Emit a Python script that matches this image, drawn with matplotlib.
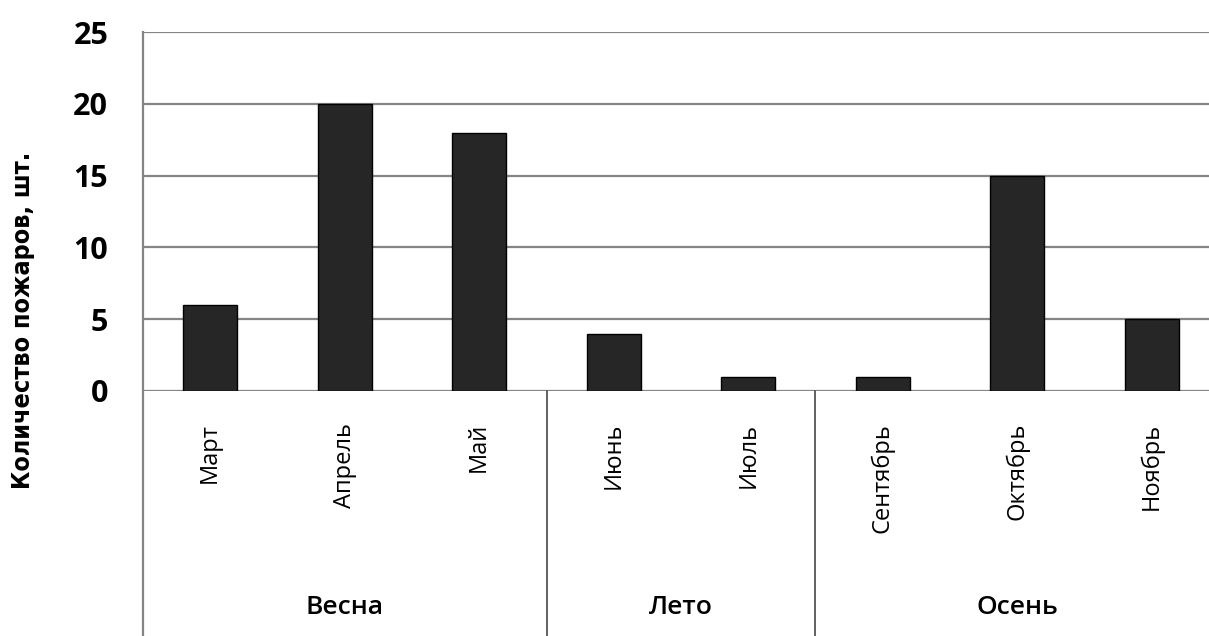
import matplotlib.pyplot as plt
import matplotlib.transforms as mtransforms

# fires per month, grouped by season
months = ['Март', 'Апрель', 'Май', 'Июнь', 'Июль', 'Сентябрь', 'Октябрь', 'Ноябрь']
fires = [6, 20, 18, 4, 1, 1, 15, 5]
seasons = ['Весна', 'Лето', 'Осень']
season_sizes = [3, 2, 3]
yticks = [0, 5, 10, 15, 20, 25]

W, H = 1209, 636
fig = plt.figure(figsize=(W / 100, H / 100), dpi=100)
ax = fig.add_axes([143 / W, 1 - 391 / H, (1219 - 143) / W, (391 - 32) / H])

x = list(range(len(months)))
ax.bar(x, fires, width=0.4, color='#262626', edgecolor='black', linewidth=1, zorder=3)

ax.set_xlim(-0.5, len(months) - 0.5)
ax.set_ylim(0, 25)
ax.set_yticks(yticks)
ax.set_yticklabels([str(v) for v in yticks], fontfamily='Open Sans', fontweight='bold', fontsize=22)
ax.yaxis.grid(True, color='#858585', linewidth=1.6, zorder=0)
ax.tick_params(axis='y', length=0, pad=25)
for s in ax.spines.values():
    s.set_visible(False)

ax.set_xticks(x)
ax.set_xticklabels(months, rotation=90, fontfamily='Open Sans', fontsize=17, va='top')
ax.tick_params(axis='x', length=0, pad=23)

# season boxes below the axis
trans = mtransforms.blended_transform_factory(ax.transData, ax.transAxes)
bottom = -(H - 391) / (391 - 32)
edges = [-0.5]
for n in season_sizes:
    edges.append(edges[-1] + n)
ax.plot([-0.5, -0.5], [bottom, 1], transform=trans, color='#858585', lw=1.6, clip_on=False)
for e in edges[1:]:
    ax.plot([e, e], [bottom, 0], transform=trans, color='#555555', lw=1.3, clip_on=False)
for name, a, b in zip(seasons, edges[:-1], edges[1:]):
    ax.text((a + b) / 2, -(608 - 391) / (391 - 32), name, transform=trans,
            ha='center', va='center', fontfamily='Open Sans', fontweight='semibold', fontsize=19)

fig.text(23 / W, 1 - 320 / H, 'Количество пожаров, шт.', rotation=90, ha='center', va='center',
         fontfamily='DejaVu Sans', fontstretch='condensed', fontweight='bold', fontsize=18)

fig.savefig('out.png', dpi=100)
